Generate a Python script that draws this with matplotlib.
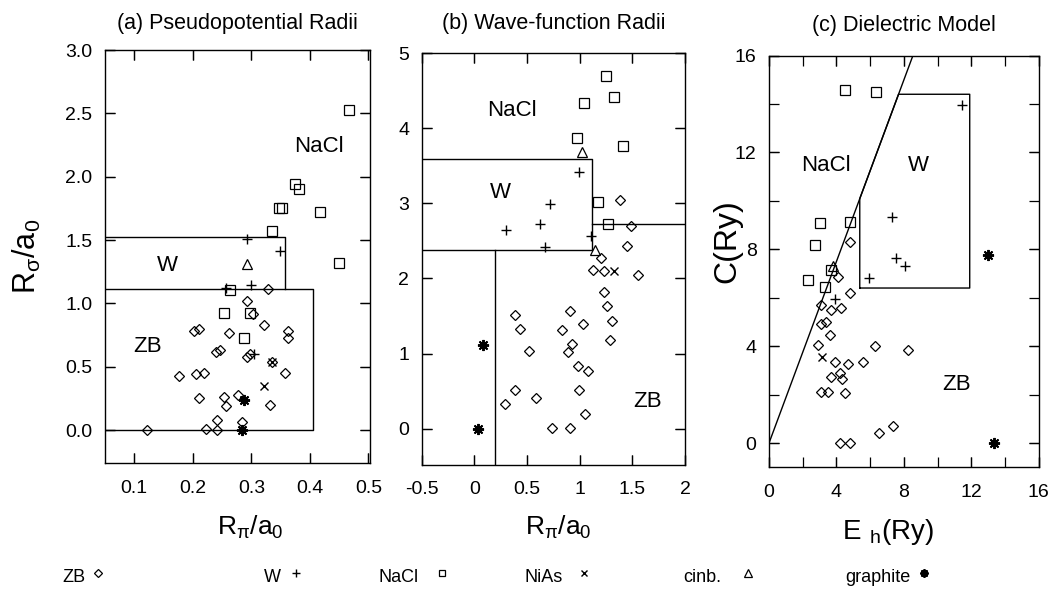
import numpy as np
import matplotlib
matplotlib.use("Agg")
import matplotlib.pyplot as plt
from matplotlib.lines import Line2D
from matplotlib.ticker import MultipleLocator, FormatStrFormatter

plt.rcParams['font.family'] = ['Liberation Sans', 'DejaVu Sans']
plt.rcParams['mathtext.fontset'] = 'custom'
plt.rcParams['mathtext.rm'] = 'Liberation Sans'
plt.rcParams['mathtext.it'] = 'Liberation Sans'

# ---- panel (a): pseudopotential radii (R_pi, R_sigma) ----
a_zb = [(0.328, 1.11), (0.292, 1.02), (0.302, 0.92), (0.322, 0.83), (0.202, 0.78),
        (0.211, 0.80), (0.262, 0.77), (0.363, 0.78), (0.363, 0.73), (0.240, 0.62),
        (0.246, 0.63), (0.292, 0.58), (0.297, 0.60), (0.336, 0.54), (0.177, 0.43),
        (0.206, 0.44), (0.219, 0.45), (0.358, 0.45), (0.210, 0.25), (0.253, 0.26),
        (0.257, 0.19), (0.278, 0.28), (0.332, 0.20), (0.241, 0.08), (0.284, 0.06),
        (0.223, 0.01), (0.241, 0.00), (0.121, 0.00)]
a_w = [(0.292, 1.51), (0.349, 1.41), (0.299, 1.145), (0.257, 1.12), (0.305, 0.60)]
a_nacl = [(0.466, 2.53), (0.375, 1.94), (0.382, 1.90), (0.347, 1.75), (0.353, 1.75),
          (0.418, 1.72), (0.336, 1.57), (0.450, 1.32), (0.263, 1.105), (0.253, 0.926),
          (0.297, 0.926), (0.288, 0.73)]
a_nias = [(0.335, 0.54), (0.321, 0.347)]
a_cinb = [(0.292, 1.31)]
a_graph = [(0.288, 0.24), (0.284, 0.00)]
a_w_box = [(0.0, 1.526), (0.357, 1.526), (0.357, 1.115)]
a_zb_box = [(0.0, 1.115), (0.405, 1.115), (0.405, 0.0), (0.0, 0.0)]

# ---- panel (b): wave-function radii ----
b_zb = [(1.38, 3.05), (1.49, 2.70), (1.20, 2.27), (1.45, 2.43), (1.13, 2.11),
        (1.23, 2.10), (1.55, 2.05), (1.23, 1.82), (1.26, 1.64), (1.31, 1.44),
        (1.29, 1.18), (0.385, 1.51), (0.91, 1.57), (0.43, 1.33), (0.83, 1.31),
        (1.03, 1.39), (0.93, 1.13), (0.89, 1.02), (0.52, 1.04), (0.98, 0.84),
        (1.08, 0.77), (0.385, 0.51), (0.29, 0.33), (0.59, 0.41), (0.99, 0.51),
        (1.05, 0.20), (0.74, 0.01), (0.91, 0.01)]
b_w = [(0.997, 3.42), (0.715, 2.99), (0.62, 2.73), (0.30, 2.64), (0.67, 2.42), (1.11, 2.57)]
b_nacl = [(1.25, 4.69), (1.33, 4.42), (1.045, 4.33), (0.974, 3.87), (1.41, 3.76),
          (1.17, 3.02), (1.27, 2.73)]
b_nias = [(1.33, 2.10)]
b_cinb = [(1.02, 3.68), (1.15, 2.38)]
b_graph = [(0.08, 1.115), (0.03, 0.00)]
b_w_box = [(-1.0, 3.59), (1.12, 3.59), (1.12, 2.375), (-1.0, 2.375)]
b_nacl_edge = [(1.12, 2.72), (3.0, 2.72)]
b_zb_edge = [(0.195, 2.375), (0.195, -1.0)]

# ---- panel (c): dielectric model (E_h, C) ----
c_zb = [(4.78, 8.31), (4.09, 6.87), (4.78, 6.21), (3.06, 5.70), (3.66, 5.48),
        (4.29, 5.59), (3.06, 4.90), (3.40, 5.00), (3.60, 4.46), (2.91, 4.04),
        (6.30, 4.01), (8.24, 3.83), (3.89, 3.35), (5.57, 3.35), (4.68, 3.26),
        (4.23, 2.91), (3.66, 2.71), (4.35, 2.64), (3.06, 2.09), (3.50, 2.09),
        (4.49, 2.05), (7.35, 0.69), (6.52, 0.40), (4.23, 0.00), (4.78, 0.00)]
c_w = [(11.44, 13.94), (7.29, 9.34), (7.55, 7.65), (8.08, 7.31), (5.91, 6.80), (3.89, 5.96)]
c_nacl = [(4.53, 14.59), (6.36, 14.48), (3.04, 9.09), (4.78, 9.13), (2.75, 8.16),
          (2.31, 6.73), (3.34, 6.44), (3.66, 7.16)]
c_nias = [(3.14, 3.57)]
c_cinb = [(3.79, 7.31)]
c_graph = [(12.98, 7.75), (13.34, 0.00)]
c_slope = 1.875
c_w_box = [(5.38, 6.4), (5.38, 10.09), (7.68, 14.4), (11.9, 14.4), (11.9, 6.4), (5.38, 6.4)]

styles = {
    'ZB':       dict(marker='D', ms=5.2, mfc='none', mec='k', mew=0.9),
    'W':        dict(marker='+', ms=7, mec='k', mew=1.0),
    'NaCl':     dict(marker='s', ms=6.5, mfc='none', mec='k', mew=0.9),
    'NiAs':     dict(marker='x', ms=6, mec='k', mew=1.0),
    'cinb.':    dict(marker='^', ms=7, mfc='none', mec='k', mew=0.9),
    'graphite': dict(marker=(8, 2, 0), ms=8, mec='k', mew=1.4),
}
# legend layout: text left edge and marker centre, in figure pixels
legend_text_x = [62, 264, 378, 525, 683, 845]
legend_mark_x = [98, 296, 442, 584, 748, 924]


def scatter(ax, pts, key):
    xy = np.array(pts)
    ax.plot(xy[:, 0], xy[:, 1], ls='none', **styles[key])


def outline(ax, pts):
    xy = np.array(pts)
    ax.plot(xy[:, 0], xy[:, 1], color='k', lw=1.0)


def set_ticks(ax, xmaj, ymaj, xmin=None, ymin=None):
    # minor ticks also put on the major positions so every side gets a mark
    ax.xaxis.set_major_locator(MultipleLocator(xmaj))
    ax.yaxis.set_major_locator(MultipleLocator(ymaj))
    ax.xaxis.set_minor_locator(MultipleLocator(xmin or xmaj))
    ax.yaxis.set_minor_locator(MultipleLocator(ymin or ymaj))
    ax.xaxis.remove_overlapping_locs = False
    ax.yaxis.remove_overlapping_locs = False


def style_axes(ax):
    for s in ax.spines.values():
        s.set_linewidth(1.0)
    ax.xaxis.set_ticks_position('both')
    ax.yaxis.set_ticks_position('both')
    ax.tick_params(axis='both', which='both', direction='in',
                   length=7, width=0.9, color='k', labelsize=14)
    ax.tick_params(axis='x', which='both', pad=12)
    ax.tick_params(axis='y', which='both', pad=9)


W_PX, H_PX = 1050, 610
fig = plt.figure(figsize=(W_PX / 100, H_PX / 100), dpi=100)

# panel (a)
ax1 = fig.add_axes([0.100, 0.241, 0.252, 0.677])
outline(ax1, a_w_box)
outline(ax1, a_zb_box)
scatter(ax1, a_zb, 'ZB')
scatter(ax1, a_w, 'W')
scatter(ax1, a_nacl, 'NaCl')
scatter(ax1, a_nias, 'NiAs')
scatter(ax1, a_cinb, 'cinb.')
scatter(ax1, a_graph, 'graphite')
ax1.set_xlim(0.05, 0.502)
ax1.set_ylim(-0.26, 3.0)
set_ticks(ax1, 0.1, 0.5)
ax1.xaxis.set_major_formatter(FormatStrFormatter('%.1f'))
ax1.yaxis.set_major_formatter(FormatStrFormatter('%.1f'))
ax1.text(0.416, 2.24, 'NaCl', fontsize=16, ha='center', va='center')
ax1.text(0.157, 1.30, 'W', fontsize=16, ha='center', va='center')
ax1.text(0.123, 0.66, 'ZB', fontsize=16, ha='center', va='center')
ax1.set_title('(a) Pseudopotential Radii', fontsize=15.5, pad=15)
ax1.set_xlabel(r'R$_{\pi}$/a$_{0}$', fontsize=19)
ax1.xaxis.set_label_coords(0.55, -0.122)
ax1.set_ylabel(r'R$_{\sigma}$/a$_{0}$', fontsize=22)
ax1.yaxis.set_label_coords(-0.235, 0.5)

# panel (b)
ax2 = fig.add_axes([0.4016, 0.238, 0.2508, 0.675])
outline(ax2, b_w_box)
outline(ax2, b_nacl_edge)
outline(ax2, b_zb_edge)
scatter(ax2, b_zb, 'ZB')
scatter(ax2, b_w, 'W')
scatter(ax2, b_nacl, 'NaCl')
scatter(ax2, b_nias, 'NiAs')
scatter(ax2, b_cinb, 'cinb.')
scatter(ax2, b_graph, 'graphite')
ax2.set_xlim(-0.5, 2.0)
ax2.set_ylim(-0.48, 5.0)
set_ticks(ax2, 0.5, 1)
ax2.xaxis.set_major_formatter(FormatStrFormatter('%g'))
ax2.text(0.36, 4.23, 'NaCl', fontsize=16, ha='center', va='center')
ax2.text(0.25, 3.14, 'W', fontsize=16, ha='center', va='center')
ax2.text(1.64, 0.36, 'ZB', fontsize=16, ha='center', va='center')
ax2.set_title('(b) Wave-function Radii', fontsize=15.5, pad=17)
ax2.set_xlabel(r'R$_{\pi}$/a$_{0}$', fontsize=19)
ax2.xaxis.set_label_coords(0.52, -0.12)

# panel (c)
ax3 = fig.add_axes([0.7324, 0.234, 0.257, 0.675])
eh = np.array([0.0, 16.0])
ax3.plot(eh, c_slope * eh, color='k', lw=1.0)
outline(ax3, c_w_box)
scatter(ax3, c_zb, 'ZB')
scatter(ax3, c_w, 'W')
scatter(ax3, c_nacl, 'NaCl')
scatter(ax3, c_nias, 'NiAs')
scatter(ax3, c_cinb, 'cinb.')
scatter(ax3, c_graph, 'graphite')
ax3.set_xlim(0, 16)
ax3.set_ylim(-1.0, 16)
set_ticks(ax3, 4, 4, 2, 2)
ax3.text(3.36, 11.47, 'NaCl', fontsize=16, ha='center', va='center')
ax3.text(8.83, 11.47, 'W', fontsize=16, ha='center', va='center')
ax3.text(11.1, 2.43, 'ZB', fontsize=16, ha='center', va='center')
ax3.set_title('(c) Dielectric Model', fontsize=15.5, pad=18)
ax3.set_xlabel(r'E$_{\;\;h}$(Ry)', fontsize=20)
ax3.xaxis.set_label_coords(0.44, -0.12)
ax3.set_ylabel('C(Ry)', fontsize=23)
ax3.yaxis.set_label_coords(-0.10, 0.55)

for ax in (ax1, ax2, ax3):
    style_axes(ax)

# legend along the bottom: label first, then a small marker
leg_y = 1 - 578 / H_PX
for key, tx, mx in zip(styles, legend_text_x, legend_mark_x):
    fig.text(tx / W_PX, leg_y, key, fontsize=13, ha='left', va='center')
    st = dict(styles[key])
    st['ms'] = st['ms'] * 0.75
    fig.add_artist(Line2D([mx / W_PX], [leg_y + 0.008], ls='none',
                          transform=fig.transFigure, **st))

fig.savefig('out.png', dpi=100)
